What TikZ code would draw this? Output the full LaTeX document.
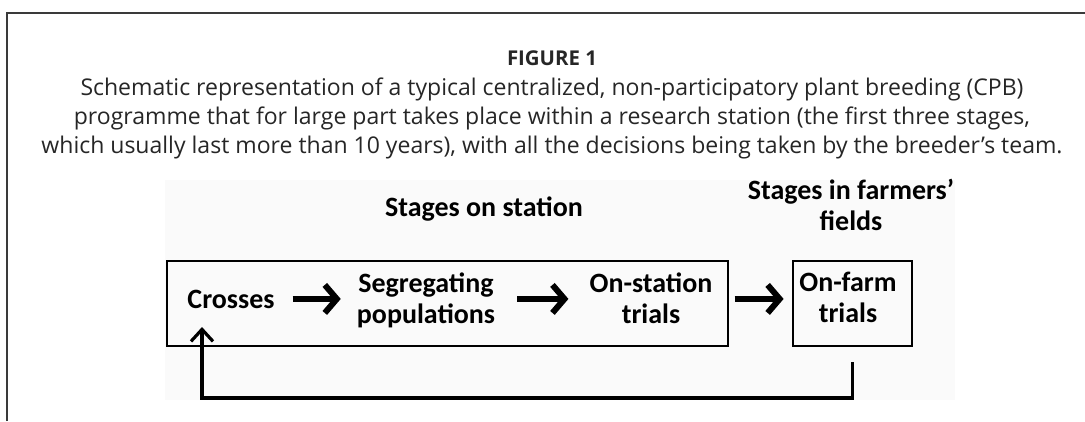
\documentclass[tikz,border=0pt]{standalone}
\usepackage{fontspec}
\setmainfont{Open Sans}
\newfontfamily\diagfont{Carlito}
\usetikzlibrary{arrows.meta}
\definecolor{framegray}{HTML}{3A3A3A}
\definecolor{panelbg}{HTML}{FAFAFA}
\newlength\probew
\begin{document}
% font sizes derived from the wanted line widths
\settowidth{\probew}{\fontsize{10}{12}\selectfont Schematic representation of a typical centralized, non-participatory plant breeding (CPB)}%
\pgfmathsetmacro\capsz{10*943/\probew}%
\settowidth{\probew}{\bfseries\fontsize{10}{12}\selectfont FIGURE 1}%
\pgfmathsetmacro\figsz{10*90/\probew}%
\settowidth{\probew}{\diagfont\bfseries\fontsize{10}{12}\selectfont CrossesSegregatingStages on station}%
\pgfmathsetmacro\lblsz{10*420/\probew}%
\begin{tikzpicture}[x=1pt, y=-1pt]
\tikzset{
  frameline/.style={draw=framegray, line width=1.6pt},
  captxt/.style={inner sep=0pt, anchor=base, text=black!85, font=\fontsize{\capsz}{29}\selectfont},
  lbl/.style={inner sep=0pt, anchor=base, align=center, font=\diagfont\bfseries\fontsize{\lblsz}{30.5}\selectfont},
  stagebox/.style={draw=black, line width=2.8pt, inner sep=0pt},
  flowarrow/.style={line width=6pt, -{Straight Barb[length=12pt, width=28pt, line width=6pt]}},
  backarrow/.style={line width=3.2pt, -{Straight Barb[length=12pt, width=22pt, line width=3.2pt]}}
}
\useasboundingbox (0,0) rectangle (1085,421);
% outer frame of the figure box
\draw[frameline] (7,421) -- (7,13) -- (1085,13);
% heading and caption
\node[inner sep=0pt, anchor=base, text=black!85, font=\bfseries\fontsize{\figsz}{26}\selectfont] (fig) at (552,65) {FIGURE 1};
\node[captxt] (cap1) at (552,95) {Schematic representation of a typical centralized, non-participatory plant breeding (CPB)};
\node[captxt] (cap2) at (552,124) {programme that for large part takes place within a research station (the first three stages,};
\node[captxt] (cap3) at (552,153) {which usually last more than 10 years), with all the decisions being taken by the breeder’s team.};
% diagram panel
\fill[panelbg] (165,180) rectangle (955,400);
% two-line labels are placed by the baseline of their last line
\node[lbl] (t1) at (484,216) {Stages on station};
\node[lbl] (t2) at (851,230) {Stages in farmers’\\fields};
\node[stagebox, minimum width=561pt, minimum height=85pt] (station) at (447.5,303.5) {};
\node[stagebox, minimum width=119pt, minimum height=85pt] (farm) at (852.5,303.5) {};
\node[lbl] (crosses) at (231,308) {Crosses};
\node[lbl] (seg) at (426,323) {Segregating\\populations};
\node[lbl] (onst) at (651,323) {On-station\\trials};
\node[lbl] (farmtxt) at (848,322) {On-farm\\trials};
% forward flow between the stages
\draw[flowarrow, shorten <=18pt, shorten >=16pt] (crosses.east) -- (crosses.east -| seg.west);
\draw[flowarrow, shorten <=22pt, shorten >=21pt] (seg.east |- crosses.east) -- (onst.west |- crosses.east);
\draw[flowarrow, shorten <=22pt, shorten >=8pt] (onst.east |- crosses.east) -- (farm.west |- crosses.east);
% feedback from on-farm trials back to crosses
\coordinate (low) at (202,398);
\coordinate (ret) at (202,327);
\draw[backarrow, shorten <=15pt] (farm.south) |- (low) -- (ret);
\end{tikzpicture}
\end{document}
